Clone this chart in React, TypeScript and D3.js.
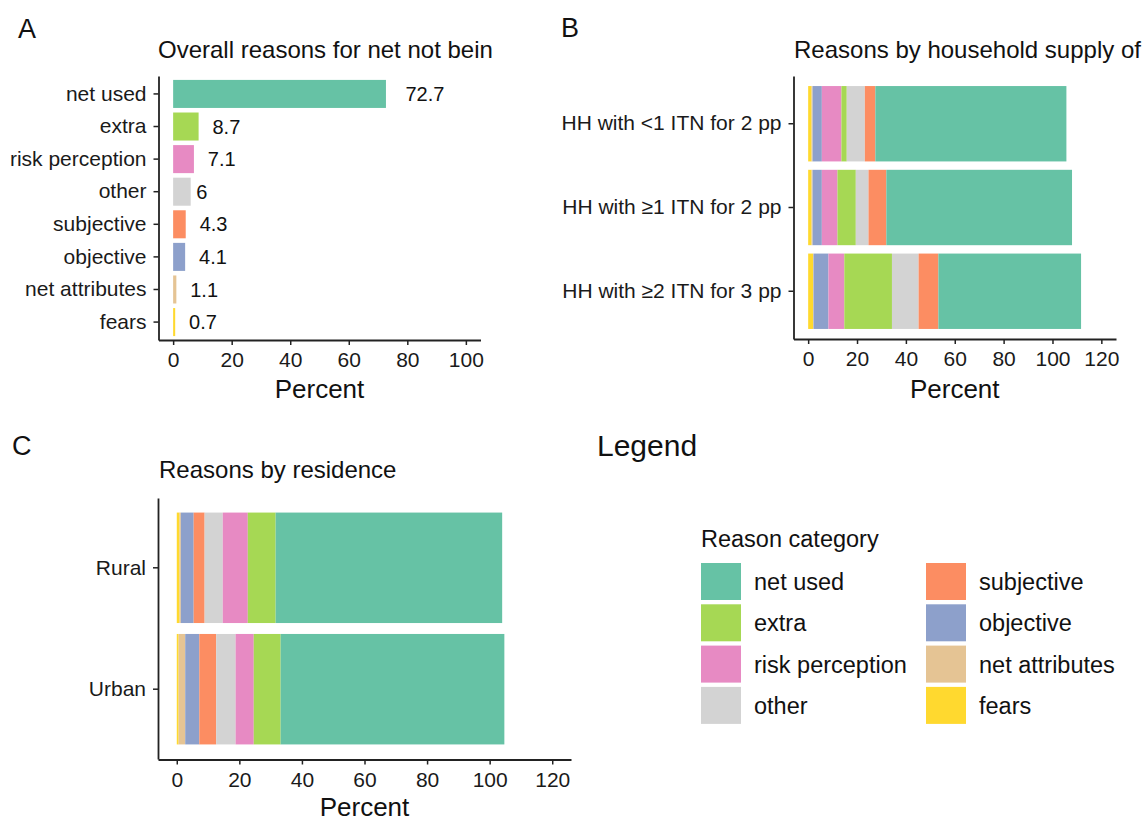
import React, { useEffect, useRef } from "react";
import * as d3 from "d3";

// reason categories, in legend order
const reasons = [
  "net used",
  "extra",
  "risk perception",
  "other",
  "subjective",
  "objective",
  "net attributes",
  "fears",
];
const reasonColors = [
  "#66C2A5",
  "#A6D854",
  "#E78AC3",
  "#D3D3D3",
  "#FC8D62",
  "#8DA0CB",
  "#E5C494",
  "#FFD92F",
];

// panel A: overall percentages (legend order)
const overallPct = [72.7, 8.7, 7.1, 6, 4.3, 4.1, 1.1, 0.7];

// panel B: by household supply (values in legend order)
const supplyGroups = [
  "HH with <1 ITN for 2 pp",
  "HH with \u22651 ITN for 2 pp",
  "HH with \u22652 ITN for 3 pp",
];
const supplyLt1For2 = [78.2, 2.2, 8.0, 7.4, 4.3, 3.8, 0.4, 1.4];
const supplyGe1For2 = [76.0, 7.5, 6.4, 5.2, 7.3, 3.8, 0.4, 1.4];
const supplyGe2For3 = [58.4, 19.5, 6.5, 10.9, 8.1, 6.1, 0.2, 2.0];
const supplyStackOrder = [
  "fears",
  "net attributes",
  "objective",
  "risk perception",
  "extra",
  "other",
  "subjective",
  "net used",
];

// panel C: by residence (values in legend order)
const residenceGroups = ["Rural", "Urban"];
const rural = [72.4, 8.9, 8.0, 5.8, 3.5, 4.1, 0.4, 0.9];
const urban = [71.5, 8.6, 5.8, 6.2, 5.4, 4.5, 2.1, 0.6];
const residenceStackOrder = [
  "fears",
  "net attributes",
  "objective",
  "subjective",
  "other",
  "risk perception",
  "extra",
  "net used",
];

const ticksA = [0, 20, 40, 60, 80, 100];
const ticksBC = [0, 20, 40, 60, 80, 100, 120];

// titles as they show in the figure (cut off at the panel edge)
const titleA = "Overall reasons for net not bein";
const titleB = "Reasons by household supply of";
const titleC = "Reasons by residence";

const FONT = "'Liberation Sans', Arial, Helvetica, sans-serif";

const App = () => {
  const svgRef = useRef(null);

  useEffect(() => {
    const svg = d3.select(svgRef.current);
    svg.selectAll("*").remove();
    svg.attr("font-family", FONT);

    const color = d3.scaleOrdinal().domain(reasons).range(reasonColors);

    const toRow = (label, vals) => {
      const row = { group: label };
      reasons.forEach((r, i) => (row[r] = vals[i]));
      return row;
    };

    const styleAxis = (g) => {
      g.select(".domain").attr("stroke", "#222").attr("stroke-width", 1.8);
      g.selectAll(".tick line").attr("stroke", "#222").attr("stroke-width", 1.5);
      g.selectAll(".tick text")
        .attr("fill", "#1a1a1a")
        .attr("font-size", 21)
        .attr("font-family", FONT);
    };

    const drawAxes = (x, y, ticks, xAxisY, yAxisX) => {
      svg
        .append("g")
        .attr("transform", `translate(0,${xAxisY})`)
        .call(
          d3.axisBottom(x).tickValues(ticks).tickSize(5).tickSizeOuter(0).tickPadding(7.5)
        )
        .call(styleAxis);
      svg
        .append("g")
        .attr("transform", `translate(${yAxisX},0)`)
        .call(d3.axisLeft(y).tickSize(5).tickSizeOuter(0).tickPadding(7))
        .call(styleAxis);
    };

    const xTitle = (x, yPos, text) =>
      svg
        .append("text")
        .attr("x", x)
        .attr("y", yPos)
        .attr("text-anchor", "middle")
        .attr("font-size", 26)
        .attr("fill", "#111")
        .text(text);

    const tag = (x, yPos, text) =>
      svg
        .append("text")
        .attr("x", x)
        .attr("y", yPos)
        .attr("font-size", 27)
        .attr("fill", "#111")
        .text(text);

    const panelTitle = (x, yPos, text) =>
      svg
        .append("text")
        .attr("x", x)
        .attr("y", yPos)
        .attr("font-size", 24)
        .attr("fill", "#111")
        .text(text);

    // ---------- Panel A ----------
    const xA = d3.scaleLinear().domain([-5, 105]).range([158.5, 480.5]);
    const yA = d3
      .scaleBand()
      .domain(reasons)
      .range([76, 340])
      .paddingInner(0.14)
      .paddingOuter(0.12);

    tag(18, 38, "A");
    panelTitle(158, 58, titleA);

    const overall = reasons.map((r, i) => ({ reason: r, value: overallPct[i] }));

    svg
      .append("g")
      .selectAll("rect")
      .data(overall)
      .join("rect")
      .attr("x", xA(0))
      .attr("y", (d) => yA(d.reason))
      .attr("width", (d) => xA(d.value) - xA(0))
      .attr("height", yA.bandwidth())
      .attr("fill", (d) => color(d.reason));

    svg
      .append("g")
      .selectAll("text")
      .data(overall)
      .join("text")
      .attr("y", (d) => yA(d.reason) + yA.bandwidth() / 2)
      .attr("dy", "0.36em")
      .attr("font-size", 20)
      .attr("fill", "#111")
      .text((d) => d3.format("")(d.value))
      .each(function (d) {
        // hjust = -0.5: shift right by half the label width
        const w = this.getComputedTextLength();
        d3.select(this).attr("x", xA(d.value) + w / 2);
      });

    drawAxes(xA, yA, ticksA, 340, 158.5);
    xTitle((158.5 + 480.5) / 2, 398, "Percent");

    // ---------- Panel B ----------
    const xB = d3.scaleLinear().domain([-6, 126]).range([793.5, 1116]);
    const yB = d3
      .scaleBand()
      .domain(supplyGroups)
      .range([76, 339])
      .paddingInner(0.1)
      .paddingOuter(0.12);

    tag(561, 37, "B");
    panelTitle(794, 58, titleB);

    const supplyRows = [
      toRow(supplyGroups[0], supplyLt1For2),
      toRow(supplyGroups[1], supplyGe1For2),
      toRow(supplyGroups[2], supplyGe2For3),
    ];
    const stackB = d3.stack().keys(supplyStackOrder)(supplyRows);

    svg
      .append("g")
      .selectAll("g")
      .data(stackB)
      .join("g")
      .attr("fill", (s) => color(s.key))
      .selectAll("rect")
      .data((s) => s)
      .join("rect")
      .attr("x", (d) => xB(d[0]))
      .attr("y", (d) => yB(d.data.group))
      .attr("width", (d) => xB(d[1]) - xB(d[0]))
      .attr("height", yB.bandwidth());

    drawAxes(xB, yB, ticksBC, 339, 793.5);
    xTitle((793.5 + 1116) / 2, 398, "Percent");

    // ---------- Panel C ----------
    const xC = d3.scaleLinear().domain([-6, 126]).range([158, 571]);
    const yC = d3
      .scaleBand()
      .domain(residenceGroups)
      .range([498, 759])
      .paddingInner(0.09)
      .paddingOuter(0.12);

    tag(12, 455, "C");
    panelTitle(159, 478, titleC);

    const residenceRows = [toRow("Rural", rural), toRow("Urban", urban)];
    const stackC = d3.stack().keys(residenceStackOrder)(residenceRows);

    svg
      .append("g")
      .selectAll("g")
      .data(stackC)
      .join("g")
      .attr("fill", (s) => color(s.key))
      .selectAll("rect")
      .data((s) => s)
      .join("rect")
      .attr("x", (d) => xC(d[0]))
      .attr("y", (d) => yC(d.data.group))
      .attr("width", (d) => xC(d[1]) - xC(d[0]))
      .attr("height", yC.bandwidth());

    drawAxes(xC, yC, ticksBC, 759.5, 158);
    xTitle((158 + 571) / 2, 816, "Percent");

    // ---------- Legend ----------
    svg
      .append("text")
      .attr("x", 597)
      .attr("y", 456)
      .attr("font-size", 30)
      .attr("fill", "#111")
      .text("Legend");

    svg
      .append("text")
      .attr("x", 701)
      .attr("y", 547)
      .attr("font-size", 23.5)
      .attr("fill", "#111")
      .text("Reason category");

    const keyW = 40;
    const keyH = 37;
    const keyStep = 41.3;
    const colX = [701, 926];

    const items = svg
      .append("g")
      .selectAll("g")
      .data(reasons)
      .join("g")
      .attr(
        "transform",
        (d, i) => `translate(${colX[Math.floor(i / 4)]},${563 + (i % 4) * keyStep})`
      );
    items
      .append("rect")
      .attr("width", keyW)
      .attr("height", keyH)
      .attr("fill", (d) => color(d));
    items
      .append("text")
      .attr("x", keyW + 13)
      .attr("y", keyH / 2)
      .attr("dy", "0.36em")
      .attr("font-size", 23.5)
      .attr("fill", "#111")
      .text((d) => d);
  }, []);

  return (
    <svg
      ref={svgRef}
      width={1143}
      height={822}
      style={{ position: "absolute", left: 0, top: 0, background: "#fff" }}
    ></svg>
  );
};

export default App;
